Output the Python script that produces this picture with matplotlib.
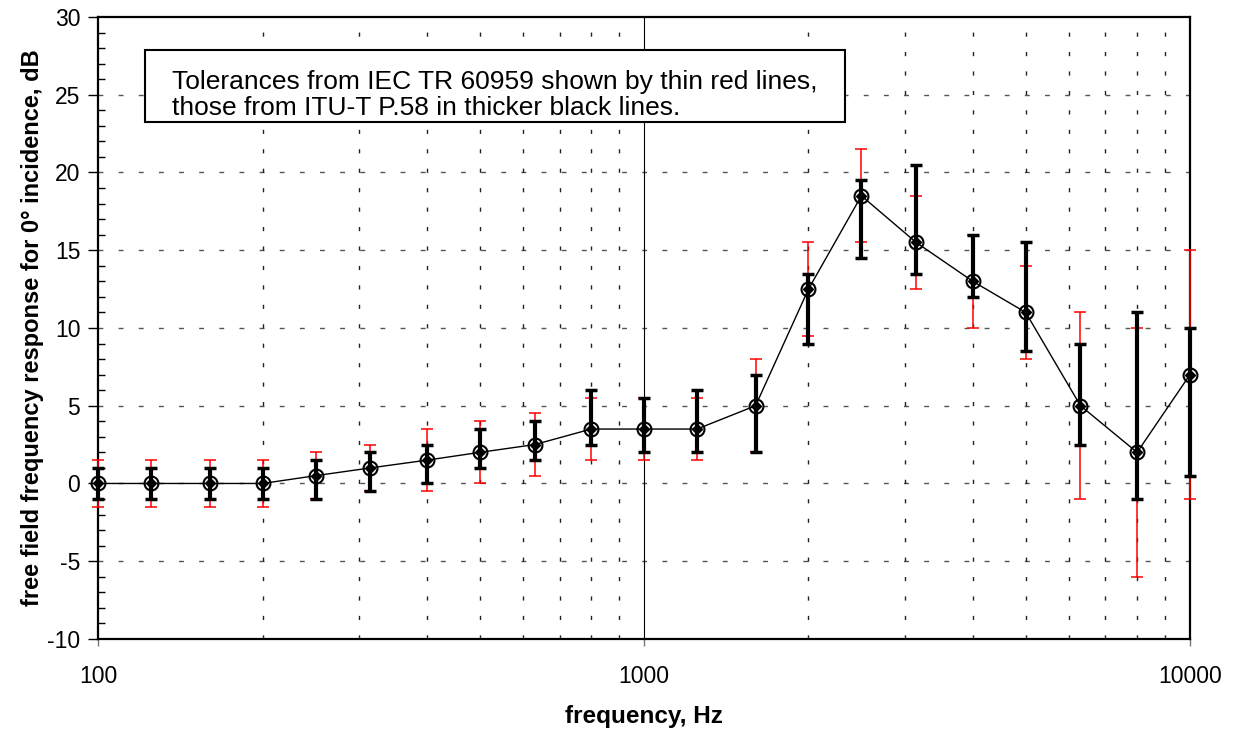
import matplotlib
matplotlib.use("Agg")
import matplotlib.pyplot as plt
import numpy as np
from matplotlib.ticker import FixedLocator, FixedFormatter, NullFormatter, MultipleLocator
from matplotlib.patches import Rectangle

plt.rcParams['font.family'] = ['Liberation Sans', 'DejaVu Sans']
plt.rcParams['axes.unicode_minus'] = False

freq = [100, 125, 160, 200, 250, 315, 400, 500, 630, 800, 1000, 1250, 1600,
        2000, 2500, 3150, 4000, 5000, 6300, 8000, 10000]
response = [0, 0, 0, 0, 0.5, 1, 1.5, 2, 2.5, 3.5, 3.5, 3.5, 5,
            12.5, 18.5, 15.5, 13, 11, 5, 2, 7]
# ITU-T P.58 tolerance limits (black)
itu_upper = [1, 1, 1, 1, 1.5, 2, 2.5, 3.5, 4, 6, 5.5, 6, 7,
             13.5, 19.5, 20.5, 16, 15.5, 9, 11, 10]
itu_lower = [-1, -1, -1, -1, -1, -0.5, 0, 1, 1.5, 2.5, 2, 2, 2,
             9, 14.5, 13.5, 12, 8.5, 2.5, -1, 0.5]
# IEC TR 60959 tolerance limits (red)
iec_upper = [1.5, 1.5, 1.5, 1.5, 2, 2.5, 3.5, 4, 4.5, 5.5, 5.5, 5.5, 8,
             15.5, 21.5, 18.5, 16, 14, 11, 10, 15]
iec_lower = [-1.5, -1.5, -1.5, -1.5, -1, -0.5, -0.5, 0, 0.5, 1.5, 1.5, 1.5, 2,
             9.5, 15.5, 12.5, 10, 8, -1, -6, -1]
xtick_vals = [100, 1000, 10000]
xtick_labels = ['100', '1000', '10000']
note = ('Tolerances from IEC TR 60959 shown by thin red lines,\n'
        'those from ITU-T P.58 in thicker black lines.')

f = np.array(freq, float)
r = np.array(response, float)

fig = plt.figure(figsize=(12.37, 7.31), dpi=100)
ax = fig.add_axes([0.0795, 0.1259, 0.8825, 0.8509])
ax.set_xscale('log')
ax.set_xlim(100, 10000)
ax.set_ylim(-10, 30)

# grid
for y in range(-5, 30, 5):
    ax.axhline(y, color='#555555', lw=1.0, ls=(0, (3.5, 11)), zorder=1)
minor_x = [m * d for d in (100, 1000) for m in range(2, 10)]
for x in minor_x:
    ax.axvline(x, color='#222222', lw=1.0, ls=(0, (3, 11)), zorder=1)
ax.axvline(1000, color='black', lw=0.8, zorder=1)

# IEC (red, thin)
ax.errorbar(f, r, yerr=[r - np.array(iec_lower), np.array(iec_upper) - r],
            fmt='none', ecolor='#ff0000', elinewidth=1.1, capsize=4,
            capthick=1.1, zorder=3, clip_on=False)
# ITU (black, thick)
ax.errorbar(f, r, yerr=[r - np.array(itu_lower), np.array(itu_upper) - r],
            fmt='none', ecolor='black', elinewidth=3.0, capsize=4.5,
            capthick=2.5, zorder=4, clip_on=False)
ax.plot(f, r, color='black', lw=1.0, zorder=5)
ax.plot(f, r, ls='none', marker='o', ms=10, mfc='none', mec='black',
        mew=1.5, zorder=6, clip_on=False)
ax.plot(f, r, ls='none', marker='D', ms=5.5, color='black', zorder=7,
        clip_on=False)

# ticks
ax.xaxis.set_major_locator(FixedLocator(xtick_vals))
ax.xaxis.set_major_formatter(FixedFormatter(xtick_labels))
ax.xaxis.set_minor_locator(FixedLocator([]))
ax.xaxis.set_minor_formatter(NullFormatter())
ax.yaxis.set_major_locator(MultipleLocator(5))
ax.yaxis.set_minor_locator(MultipleLocator(1))
ax.tick_params(axis='x', which='major', direction='out', length=5, width=1,
               color='#777777', labelsize=16.5, pad=14)
ax.tick_params(axis='y', which='major', direction='out', length=7, width=1,
               labelsize=16.5, pad=6)
ax.tick_params(axis='y', which='minor', direction='in', length=5, width=1)

for s in ax.spines.values():
    s.set_linewidth(1.6)

ax.set_xlabel('frequency, Hz', fontsize=17.5, fontweight='bold', labelpad=12)
ax.set_ylabel('free field frequency response for 0° incidence, dB',
              fontsize=17, fontweight='bold', labelpad=2)

ax.add_patch(Rectangle((0.0428, 0.831), 0.641, 0.116, transform=ax.transAxes,
                       fc='white', ec='black', lw=1.5, zorder=10))
ax.text(0.0675, 0.875, note, transform=ax.transAxes, fontsize=19,
        ha='left', va='center', linespacing=1.1, zorder=11)

fig.savefig('out.png', dpi=100)
